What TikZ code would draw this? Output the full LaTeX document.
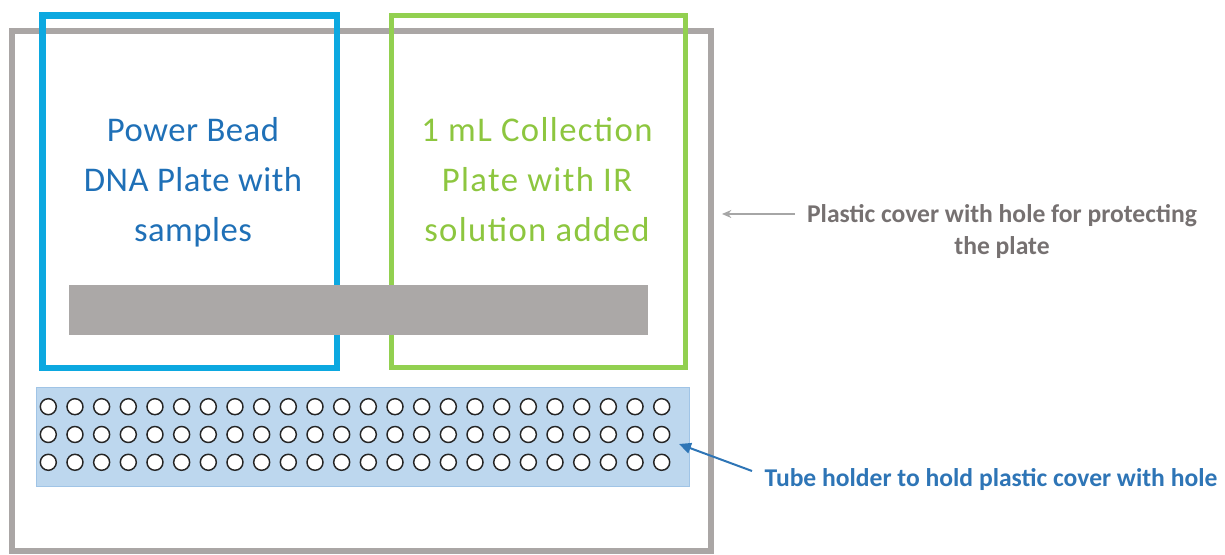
\documentclass[tikz,border=0pt]{standalone}
\usepackage{fontspec}
\setmainfont{Carlito}
\usetikzlibrary{arrows.meta}
\definecolor{framegray}{RGB}{170,166,165}
\definecolor{platebluec}{RGB}{12,168,224}
\definecolor{plategreen}{RGB}{146,208,80}
\definecolor{bargray}{RGB}{171,168,167}
\definecolor{holderfill}{RGB}{189,215,238}
\definecolor{holderline}{RGB}{160,196,230}
\definecolor{txtblue}{RGB}{31,112,183}
\definecolor{txtgreen}{RGB}{141,198,63}
\definecolor{txtgray}{RGB}{118,113,113}
\definecolor{arrgray}{RGB}{166,166,166}
\definecolor{arrblue}{RGB}{46,117,182}
\tikzset{
  bigtext/.style={align=center, inner sep=0pt, font=\addfontfeatures{LetterSpace=1.5}\fontsize{26}{37.5}\selectfont},
  bigtextwide/.style={align=center, inner sep=0pt, font=\addfontfeatures{LetterSpace=4}\fontsize{26}{37.5}\selectfont},
  smalltext/.style={align=center, inner sep=0pt, font=\bfseries\fontsize{19.2}{24}\selectfont},
  hole/.style={draw=black!85, line width=1.1pt, fill=white},
}
\begin{document}
\begin{tikzpicture}[x=0.75pt,y=-0.75pt]
\useasboundingbox (0,0) rectangle (1225,555);
% plastic cover frame
\draw[framegray, line width=4.5pt] (12,31) rectangle (711,551);
% plates
\draw[platebluec, line width=5pt] (42.5,15.5) rectangle (337,368);
\draw[plategreen, line width=3.75pt] (391,16) rectangle (685,368);
% gray bar
\fill[bargray] (69,285) rectangle (648,335);
% tube holder
\draw[holderline, fill=holderfill, line width=0.75pt] (36,388) rectangle (689,487);
\foreach \i in {0,...,23}{
  \foreach \j in {0,1,2}{
    \draw[hole] (48.3+\i*26.67, 406.7+\j*27.8) circle (6pt);
  }
}
% texts
\node[bigtext, text=txtblue] (pb) at (193,182) {Power Bead\\DNA Plate with\\samples};
\node[bigtextwide, text=txtgreen] (cp) at (537,180) {1 mL Collection\\Plate with IR\\solution added};
\node[smalltext, text=txtgray] (pc) at (1002,232) {Plastic cover with hole for protecting\\the plate};
\node[smalltext, text=arrblue] (th) at (991,480) {Tube holder to hold plastic cover with hole};
% arrows
\coordinate (pcs) at (795,214);
\coordinate (pct) at (722,214);
\coordinate (ths) at (752,471);
\coordinate (tht) at (679,444);
\draw[arrgray, line width=1.1pt, -{Stealth[length=7pt,width=6pt]}] (pcs) -- (pct);
\draw[arrblue, line width=1.5pt, -{Triangle[length=9pt,width=8pt]}] (ths) -- (tht);
\end{tikzpicture}
\end{document}
